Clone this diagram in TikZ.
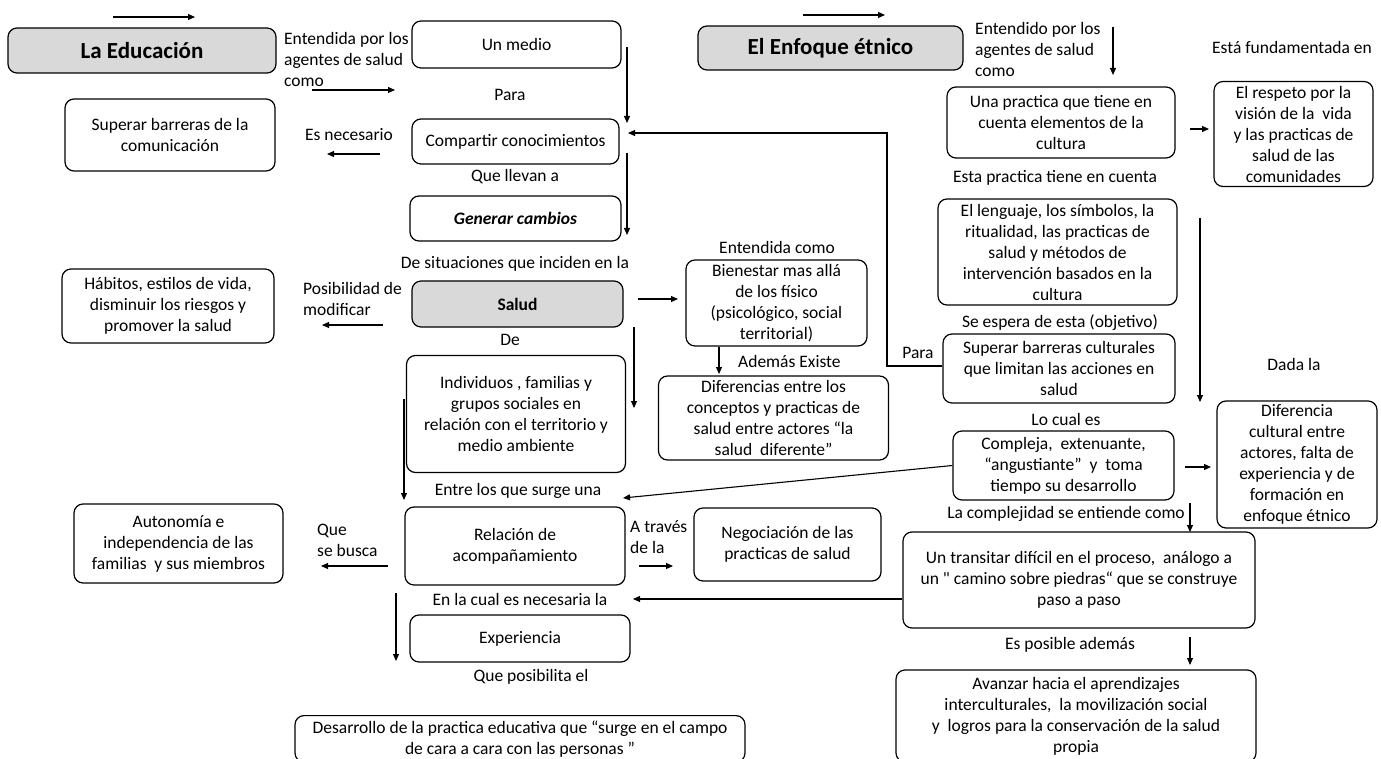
\documentclass[tikz,border=0pt]{standalone}
\usepackage{fontspec}
\setmainfont{Carlito}
\newfontfamily\rawquote[Ligatures=TeXOff]{Carlito}
\usetikzlibrary{arrows.meta}
\definecolor{boxgray}{RGB}{217,217,217}
\tikzset{
  box/.style={draw, rounded corners=9pt, line width=1.2pt, align=center, inner sep=2pt,
    font=\fontsize{17.5}{21}\selectfont},
  gbox/.style={box, fill=boxgray},
  lbl/.style={inner sep=0pt, align=center, font=\fontsize{17.5}{21}\selectfont},
  lbll/.style={lbl, align=left, anchor=west},
  arr/.style={line width=1.1pt, -{Triangle[length=7pt,width=6pt]}},
}
\begin{document}
\begin{tikzpicture}[x=1pt,y=-1pt]
\useasboundingbox (0,0) rectangle (1381,759);
\fill[white] (0,0) rectangle (1381,759);

% ---------------- La Educacion branch ----------------
\node[gbox, minimum width=268pt, minimum height=45pt, font=\fontsize{23}{27}\selectfont\bfseries] (ed) at (142,50.5) {La Educación};
\node[box, minimum width=209pt, minimum height=47pt] (medio) at (516.5,44.5) {Un medio};
\node[box, minimum width=210pt, minimum height=72pt] (supcom) at (170,135) {Superar barreras de la\\comunicación};
\node[box, minimum width=207pt, minimum height=45pt] (comp) at (515.5,141.5) {Compartir conocimientos};
\node[box, minimum width=211pt, minimum height=45pt] (gen) at (515.5,218.5) {\textbf{\textit{Generar cambios}}};
\node[box, minimum width=212pt, minimum height=74pt] (hab) at (168,306) {Hábitos, estilos de vida,\\disminuir los riesgos y\\promover la salud};
\node[gbox, minimum width=211pt, minimum height=46pt] (salud) at (517.5,304) {\textbf{Salud}};
\node[box, minimum width=181pt, minimum height=86pt] (bien) at (776.5,303) {Bienestar mas allá\\de los físico\\(psicológico, social\\territorial)};
\node[box, minimum width=219pt, minimum height=117pt] (indiv) at (516,414) {Individuos , familias y\\grupos sociales en\\relación con el territorio y\\medio ambiente};
\node[box, minimum width=230pt, minimum height=84pt] (difer) at (773.5,418) {Diferencias entre los\\conceptos y practicas de\\salud entre actores “la\\salud \ diferente”};
\node[box, minimum width=209pt, minimum height=79pt] (auto) at (178.5,543.5) {Autonomía e\\independencia de las\\familias \ y sus miembros};
\node[box, minimum width=220pt, minimum height=78pt] (rel) at (515,546) {Relación de\\acompañamiento};
\node[box, minimum width=187pt, minimum height=73pt] (neg) at (787.5,544.5) {Negociación de las\\practicas de salud};
\node[box, minimum width=220pt, minimum height=47pt] (exp) at (520,638.5) {Experiencia};
\node[box, minimum width=450pt, inner ysep=5pt, anchor=north] (des) at (520,715) {Desarrollo de la practica educativa que “surge en el campo\\de cara a cara con las personas ”};

% labels of the left branch
\node[lbll] (l1) at (284,59) {Entendida por los\\agentes de salud\\como};
\node[lbl] (l2) at (510,95) {Para};
\node[lbl] (l3) at (349,135) {Es necesario};
\node[lbl] (l4) at (515,177) {Que llevan a};
\node[lbl] (l5) at (515,264) {De situaciones que inciden en la};
\node[lbll] (l6) at (303,299) {Posibilidad de\\modificar};
\node[lbl] (l7) at (777,247) {Entendida como};
\node[lbl] (l8) at (510,340) {De};
\node[lbll] (l9) at (738,361) {Además Existe};
\node[lbl] (l10) at (518,491) {Entre los que surge una};
\node[lbll] (l11) at (317,540) {Que\\se busca};
\node[lbll] (l12) at (630,537) {A través\\de la};
\node[lbl] (l13) at (520,599) {En la cual es necesaria la};
\node[lbl] (l14) at (531,677) {Que posibilita el};

% ---------------- El Enfoque etnico branch ----------------
\node[gbox, minimum width=265pt, minimum height=44pt, font=\fontsize{23}{27}\selectfont\bfseries] (enf) at (830.5,48) {El Enfoque étnico};
\node[box, minimum width=228pt, minimum height=71pt] (una) at (1061,122.5) {Una practica que tiene en\\cuenta elementos de la\\cultura};
\node[box, minimum width=159pt, minimum height=105pt] (resp) at (1293.5,134) {El respeto por la\\visión de la \ vida\\y las practicas de\\salud de las\\comunidades};
\node[box, minimum width=239pt, minimum height=106pt] (leng) at (1057.5,252) {El lenguaje, los símbolos, la\\ritualidad, las practicas de\\salud y métodos de\\intervención basados en la\\cultura};
\node[box, minimum width=232pt, minimum height=69pt] (supcul) at (1059,368.5) {Superar barreras culturales\\que limitan las acciones en\\salud};
\node[box, minimum width=221pt, minimum height=69pt] (compl) at (1063.5,465.5) {Compleja, \ extenuante,\\“angustiante” \ y \ toma\\tiempo su desarrollo};
\node[box, minimum width=160pt, minimum height=127pt] (difcul) at (1297,464.5) {Diferencia\\cultural entre\\actores, falta de\\experiencia y de\\formación en\\enfoque étnico};
\node[box, minimum width=352pt, minimum height=96pt] (trans) at (1079,580) {Un transitar difícil en el proceso, \ análogo a\\un {\rawquote"} camino sobre piedras“ que se construye\\paso a paso};
\node[box, minimum width=360pt, minimum height=92pt] (avan) at (1076,716) {Avanzar hacia el aprendizajes\\interculturales, \ la movilización social\\y \ logros para la conservación de la salud\\propia};

% labels of the right branch
\node[lbll] (r1) at (975,49) {Entendido por los\\agentes de salud\\como};
\node[lbl] (r2) at (1292,47) {Está fundamentada en};
\node[lbl] (r3) at (1055,178) {Esta practica tiene en cuenta};
\node[lbl] (r4) at (1060,323) {Se espera de esta (objetivo)};
\node[lbl] (r5) at (918,353) {Para};
\node[lbl] (r6) at (1294,364) {Dada la};
\node[lbl] (r7) at (1066,419) {Lo cual es};
\node[lbl] (r8) at (1066,514) {La complejidad se entiende como};
\node[lbl] (r9) at (1070,645) {Es posible además};

% ---------------- free arrow ends ----------------
\coordinate (a1s) at (113,17);  \coordinate (a1e) at (195,17);
\coordinate (a2s) at (312,90);  \coordinate (a2e) at (395,90);
\coordinate (a3s) at (627,47);  \coordinate (a3e) at (627,123);
\coordinate (a4s) at (380,154); \coordinate (a4e) at (327,154);
\coordinate (a5s) at (627,153); \coordinate (a5e) at (627,235);
\coordinate (a6s) at (383,325); \coordinate (a6e) at (322,325);
\coordinate (a7s) at (638,299); \coordinate (a7e) at (678,299);
\coordinate (a8s) at (634,327); \coordinate (a8e) at (634,408);
\coordinate (a9s) at (719,347); \coordinate (a9e) at (719,374);
\coordinate (a10s) at (404,399); \coordinate (a10e) at (404,500);
\coordinate (a11s) at (388,566); \coordinate (a11e) at (321,566);
\coordinate (a12s) at (639,566); \coordinate (a12e) at (673,566);
\coordinate (a13s) at (396,593); \coordinate (a13e) at (396,661);
\coordinate (b1s) at (803,15);  \coordinate (b1e) at (885,15);
\coordinate (b2s) at (1113,27); \coordinate (b2e) at (1113,75);
\coordinate (b3s) at (1190,129); \coordinate (b3e) at (1209,129);
\coordinate (b4s) at (1200,218); \coordinate (b4e) at (1200,402);
\coordinate (b5s) at (1185,467); \coordinate (b5e) at (1211,467);
\coordinate (b6s) at (1190,503); \coordinate (b6e) at (1190,532);
\coordinate (b7s) at (1190,637); \coordinate (b7e) at (1190,665);
\coordinate (tcompart) at (628,133);
\coordinate (bend1) at (887,366);
\coordinate (bend2) at (887,133);
\coordinate (tentre) at (623,498);
\coordinate (tcual) at (633,599);

% ---------------- connectors ----------------
\foreach \p in {a1,a2,a3,a4,a5,a6,a7,a8,a9,a10,a11,a12,a13,b1,b2,b3,b4,b5,b6,b7}
  \draw[arr] (\p s) -- (\p e);
\draw[arr] (supcul.west |- bend1) -- (bend1) -- (bend2) -- (tcompart);
\draw[arr] (compl.west) -- (tentre);
\draw[arr] (trans.west |- tcual) -- (tcual);
\end{tikzpicture}
\end{document}
